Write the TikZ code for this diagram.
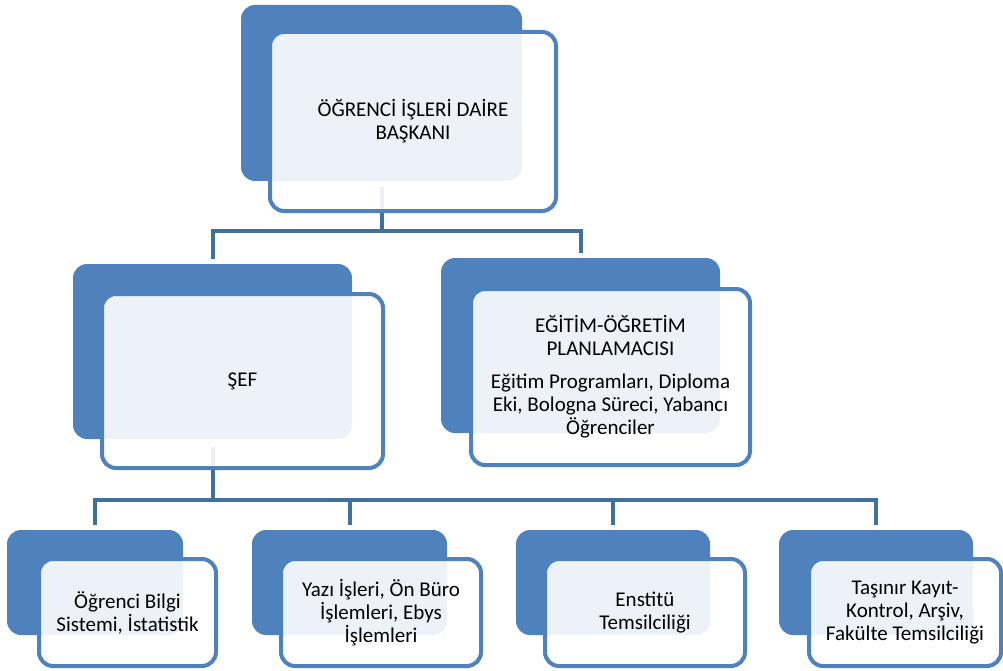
\documentclass[tikz,border=0pt]{standalone}
\usepackage{fontspec}
\setmainfont{Carlito}
\definecolor{accent}{HTML}{4F81BD}
\definecolor{conncol}{HTML}{41709F}
\begin{document}
\begin{tikzpicture}[x=1pt,y=-1pt,
  back/.style={fill=accent, rounded corners=14pt, inner sep=0pt},
  front/.style={draw=accent, line width=4pt, fill=white, fill opacity=0.9, text opacity=1,
    rounded corners=14pt, align=center, inner sep=0pt,
    font=\fontsize{21}{23}\selectfont},
  link/.style={draw=conncol, line width=4pt}]
\useasboundingbox (0,0) rectangle (1003,671);
% back boxes
\node[back, minimum width=281pt, minimum height=176pt] (b1) at (381.5,93) {};
\node[back, minimum width=279pt, minimum height=175pt] (b2) at (212.5,351.5) {};
\node[back, minimum width=279pt, minimum height=175pt] (b3) at (580.5,345.5) {};
\node[back, minimum width=176pt, minimum height=105pt] (b4) at (95,582.5) {};
\node[back, minimum width=195pt, minimum height=105pt] (b5) at (349.5,582.5) {};
\node[back, minimum width=194pt, minimum height=105pt] (b6) at (613,582.5) {};
\node[back, minimum width=194pt, minimum height=105pt] (b7) at (876,582.5) {};
% connectors
\coordinate (j1) at (381.5,231);
\coordinate (j2) at (212.5,500);
\draw[link] ([yshift=-6pt]b1.south) -- (j1);
\draw[link] ([yshift=5pt]b2.north) |- (j1) -| ([yshift=5pt]b3.north);
\draw[link] ([yshift=-8pt]b2.south) -- (j2);
\draw[link] ([yshift=5pt]b4.north) |- (j2 -| b7.north) -- ([yshift=5pt]b7.north);
\draw[link] ([yshift=5pt]b5.north) -- ([yshift=-2pt]b5.north |- j2);
\draw[link] ([yshift=5pt]b6.north) -- ([yshift=-2pt]b6.north |- j2);
% front boxes
\node[front, minimum width=286pt, minimum height=179pt] (f1) at (413,121.5)
  {ÖĞRENCİ İŞLERİ DAİRE\\BAŞKANI};
\node[front, minimum width=281pt, minimum height=174pt] (f2) at (242.5,381) {ŞEF};
\node[front, minimum width=279pt, minimum height=176pt] (f3) at (610.5,377)
  {EĞİTİM-ÖĞRETİM\\PLANLAMACISI\\[10pt]Eğitim Programları, Diploma\\Eki, Bologna Süreci, Yabancı\\Öğrenciler};
\node[front, minimum width=177pt, minimum height=107pt] (f4) at (127.5,612.5)
  {Öğrenci Bilgi\\Sistemi, İstatistik};
\node[front, minimum width=200pt, minimum height=107pt] (f5) at (381,612.5)
  {Yazı İşleri, Ön Büro\\İşlemleri, Ebys\\İşlemleri};
\node[front, minimum width=200pt, minimum height=107pt] (f6) at (645,612.5)
  {Enstitü\\Temsilciliği};
\node[front, minimum width=192pt, minimum height=107pt] (f7) at (905,612.5)
  {Taşınır Kayıt-\\Kontrol, Arşiv,\\Fakülte Temsilciliği};
\end{tikzpicture}
\end{document}
